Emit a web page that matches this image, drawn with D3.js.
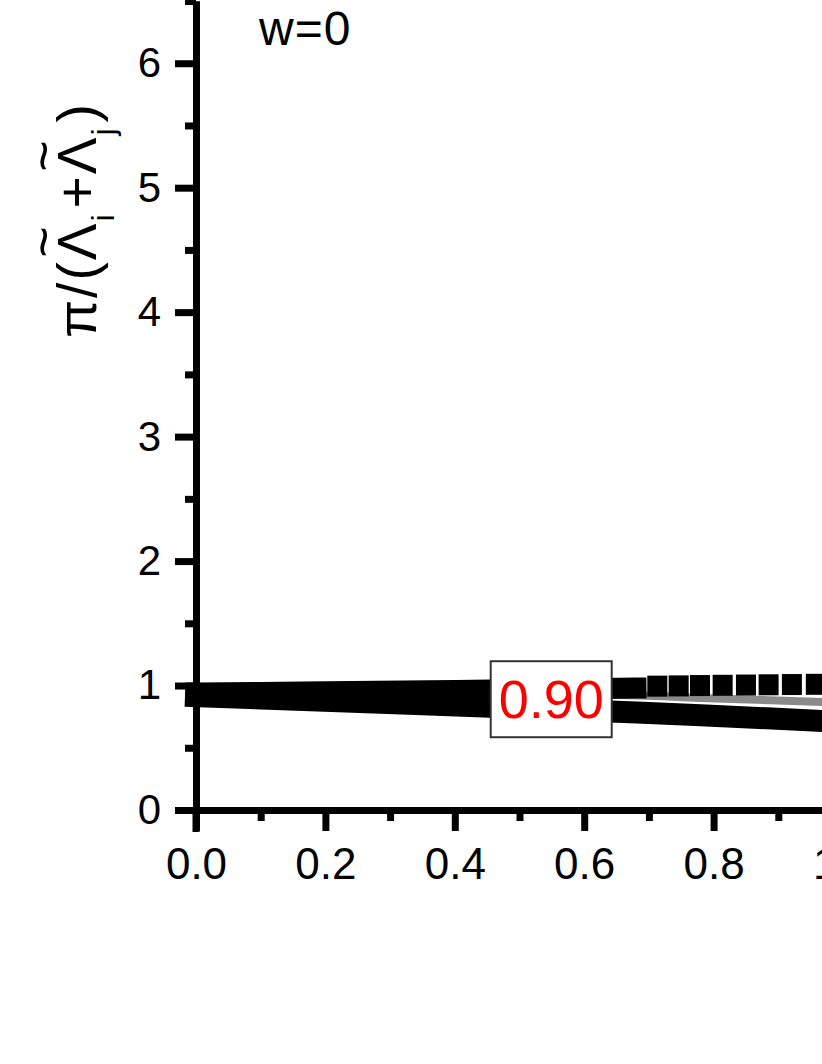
<!DOCTYPE html>
<html>
<head>
<meta charset="utf-8">
<script src="https://cdn.jsdelivr.net/npm/d3@7"></script>
<style>
  body { margin: 0; background: #fff; }
  svg { display: block; font-family: "Liberation Sans", Arial, sans-serif; }
</style>
</head>
<body>
<svg id="chart" width="822" height="1064"></svg>
<script>
// values (x = horizontal axis, y = pi/(Li+Lj))
var xTickValues = [0, 0.2, 0.4, 0.6, 0.8, 1.0, 1.2];
var xMinorValues = [0.1, 0.3, 0.5, 0.7, 0.9, 1.1];
var yTickValues = [0, 1, 2, 3, 4, 5, 6];
var yMinorValues = [0.5, 1.5, 2.5, 3.5, 4.5, 5.5, 6.5];

// upper series: dense part (points overlap into a solid band)
var upperSolidX = [0, 0.2, 0.4, 0.68];
var upperSolidY = [0.94, 0.95, 0.96, 0.98];
// upper series: separated square markers
var upperSquareX = [0.713, 0.746, 0.779, 0.814, 0.850, 0.885, 0.921, 0.958, 0.993];
var upperSquareY = [0.995, 0.997, 1.0, 1.002, 1.004, 1.006, 1.008, 1.01, 1.012];
// lower series
var lowerX = [0, 0.35, 0.65, 0.78, 0.97, 1.0];
var lowerY = [0.915, 0.85, 0.79, 0.762, 0.715, 0.708];
// gray series
var grayX = [0, 0.65, 0.78, 0.97, 1.0];
var grayY = [0.93, 0.923, 0.90, 0.867, 0.862];

var labelText = "0.90", labelX = 0.549, labelY = 0.89;
var panelText = "w=0";

var svg = d3.select("#chart");
svg.append("rect").attr("width", 822).attr("height", 1064).attr("fill", "#fff");

var x = d3.scaleLinear().domain([0, 1.2]).range([196, 196 + 647 * 1.2]),
    y = d3.scaleLinear().domain([0, 6.5]).range([810, 1]);

function zipPts(xs, ys) { return xs.map(function(d, i) { return [d, ys[i]]; }); }

var line = d3.line()
    .curve(d3.curveMonotoneX)
    .x(function(d) { return x(d[0]); })
    .y(function(d) { return y(d[1]); });

var plot = svg.append("g");

// gray line
plot.append("path")
    .attr("d", line(zipPts(grayX, grayY)))
    .attr("fill", "none")
    .attr("stroke", "#8a8a8a")
    .attr("stroke-width", 8);

// lower thick band
plot.append("path")
    .attr("d", line(zipPts(lowerX, lowerY)))
    .attr("fill", "none")
    .attr("stroke", "#000")
    .attr("stroke-width", 22)
    .attr("stroke-linecap", "square");

// upper dense part
plot.append("path")
    .attr("d", line(zipPts(upperSolidX, upperSolidY)))
    .attr("fill", "none")
    .attr("stroke", "#000")
    .attr("stroke-width", 21)
    .attr("stroke-linecap", "square");

// upper square markers
plot.selectAll(".sq")
  .data(zipPts(upperSquareX, upperSquareY))
  .enter().append("rect")
    .attr("class", "sq")
    .attr("x", function(d) { return x(d[0]) - 10; })
    .attr("y", function(d) { return y(d[1]) - 10.5; })
    .attr("width", 20)
    .attr("height", 21)
    .attr("fill", "#000");

// contour-like label in a box
var lg = svg.append("g")
    .attr("transform", "translate(" + x(labelX) + "," + y(labelY) + ")");
lg.append("rect")
    .attr("x", -60.5).attr("y", -38)
    .attr("width", 121).attr("height", 76)
    .attr("fill", "#fff")
    .attr("stroke", "#333")
    .attr("stroke-width", 2);
lg.append("text")
    .attr("text-anchor", "middle")
    .attr("y", 19)
    .attr("font-size", 54)
    .attr("fill", "#ff0000")
    .text(labelText);

// axes
function styleAxis(g) {
  g.select(".domain").attr("stroke", "#000").attr("stroke-width", 7);
  g.selectAll(".tick line").attr("stroke", "#000").attr("stroke-width", 7);
  g.selectAll(".tick text").attr("fill", "#000");
}

var xMinor = svg.append("g")
    .attr("transform", "translate(0,810)")
    .call(d3.axisBottom(x).tickValues(xMinorValues).tickSize(11).tickSizeOuter(0).tickFormat(""));
styleAxis(xMinor);

var xAxis = svg.append("g")
    .attr("transform", "translate(0,810)")
    .call(d3.axisBottom(x).tickValues(xTickValues).tickSize(21).tickSizeOuter(0)
      .tickPadding(17).tickFormat(d3.format(".1f")));
styleAxis(xAxis);
xAxis.selectAll(".tick text").attr("font-size", 44).attr("font-family", "Liberation Sans, Arial, sans-serif");

var yMinor = svg.append("g")
    .attr("transform", "translate(196,0)")
    .call(d3.axisLeft(y).tickValues(yMinorValues).tickSize(11).tickSizeOuter(0).tickFormat(""));
styleAxis(yMinor);

var yAxis = svg.append("g")
    .attr("transform", "translate(196,0)")
    .call(d3.axisLeft(y).tickValues(yTickValues).tickSize(21).tickSizeOuter(0)
      .tickPadding(14).tickFormat(d3.format("d")));
styleAxis(yAxis);
yAxis.selectAll(".tick text").attr("font-size", 42).attr("font-family", "Liberation Sans, Arial, sans-serif");

// y axis extends down to the end of the x=0 tick
svg.append("line")
    .attr("x1", 196).attr("x2", 196).attr("y1", 810).attr("y2", 832)
    .attr("stroke", "#000").attr("stroke-width", 7);

// axis title, tildes placed over the Lambdas afterwards
var tg = svg.append("g").attr("transform", "translate(96,220) rotate(-90)");
var yt = tg.append("text")
    .attr("text-anchor", "middle")
    .attr("font-size", 55)
    .attr("letter-spacing", 2)
    .attr("fill", "#000");
yt.append("tspan").text("\u03c0/(\u039b");
yt.append("tspan").attr("font-size", 32).attr("dy", 18).text("i");
yt.append("tspan").attr("dy", -18).attr("dx", 4).text("+\u039b");
yt.append("tspan").attr("font-size", 32).attr("dy", 18).text("j");
yt.append("tspan").attr("dy", -18).attr("dx", 4).text(")");

[3, 6].forEach(function(idx) {
  var e = yt.node().getExtentOfChar(idx);
  tg.append("text")
    .attr("x", e.x + e.width / 2 - 1)
    .attr("y", -34)
    .attr("text-anchor", "middle")
    .attr("font-size", 54)
    .attr("fill", "#000")
    .text("~");
});

// panel label
svg.append("text")
    .attr("x", 259).attr("y", 45)
    .attr("font-size", 48)
    .attr("letter-spacing", 1)
    .attr("fill", "#000")
    .text(panelText);
</script>
</body>
</html>
